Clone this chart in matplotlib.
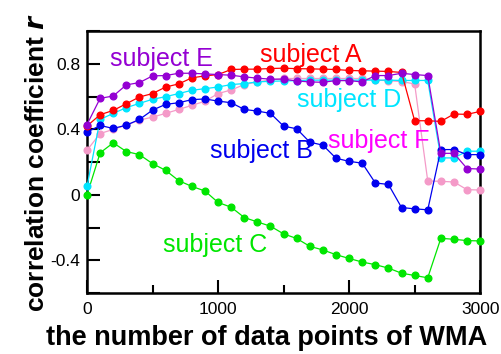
import numpy as np
import matplotlib
matplotlib.use('Agg')
import matplotlib.pyplot as plt
from matplotlib.ticker import MultipleLocator

plt.rcParams['font.family'] = ['Liberation Sans', 'DejaVu Sans']

# window sizes of the WMA (0, 100, ..., 3000)
n_points = list(range(0, 3001, 100))

subj_a = [0.42, 0.489, 0.515, 0.556, 0.597, 0.618, 0.658, 0.677, 0.714, 0.726, 0.734,
          0.765, 0.767, 0.767, 0.771, 0.773, 0.770, 0.769, 0.767, 0.765, 0.759,
          0.757, 0.755, 0.753, 0.747, 0.452, 0.452, 0.448, 0.493, 0.491, 0.509]
subj_b = [0.382, 0.423, 0.405, 0.425, 0.46, 0.517, 0.552, 0.562, 0.581, 0.585, 0.572,
          0.562, 0.521, 0.511, 0.497, 0.419, 0.403, 0.321, 0.303, 0.223, 0.204,
          0.193, 0.072, 0.063, -0.078, -0.086, -0.092, 0.276, 0.276, 0.245, 0.245]
subj_c = [0.0, 0.256, 0.317, 0.264, 0.245, 0.190, 0.149, 0.086, 0.051, 0.023, -0.047,
          -0.076, -0.139, -0.166, -0.192, -0.239, -0.267, -0.315, -0.337, -0.366, -0.389,
          -0.411, -0.427, -0.448, -0.479, -0.493, -0.507, -0.266, -0.272, -0.280, -0.282]
subj_d = [0.051, 0.46, 0.497, 0.532, 0.558, 0.583, 0.599, 0.618, 0.638, 0.648, 0.658,
          0.673, 0.679, 0.689, 0.693, 0.695, 0.697, 0.70, 0.70, 0.70, 0.70,
          0.70, 0.70, 0.70, 0.698, 0.698, 0.698, 0.225, 0.225, 0.266, 0.266]
subj_e = [0.429, 0.589, 0.603, 0.671, 0.685, 0.726, 0.728, 0.742, 0.742, 0.738, 0.734,
          0.730, 0.720, 0.712, 0.706, 0.706, 0.695, 0.689, 0.687, 0.697, 0.697,
          0.689, 0.728, 0.728, 0.742, 0.734, 0.728, 0.253, 0.253, 0.160, 0.157]
subj_f = [0.272, 0.374, 0.399, 0.425, 0.456, 0.474, 0.497, 0.521, 0.546, 0.571, 0.618,
          0.640, 0.673, 0.689, 0.701, 0.71, 0.71, 0.71, 0.71, 0.71, 0.71,
          0.71, 0.70, 0.697, 0.691, 0.677, 0.084, 0.082, 0.078, 0.031, 0.029]

# (data, line colour, label text, label colour, label x, label y)
series = [
    (subj_c, '#00e600', 'subject C', '#00e600', 580, -0.35),
    (subj_f, '#f49ac8', 'subject F', '#ff00ff', 1840, 0.288),
    (subj_d, '#00e5ff', 'subject D', '#00e5ff', 1603, 0.534),
    (subj_b, '#0000ee', 'subject B', '#0000ee', 939, 0.227),
    (subj_a, '#ff0000', 'subject A', '#ff0000', 1321, 0.81),
    (subj_e, '#9400d3', 'subject E', '#9400d3', 176, 0.785),
]

fig = plt.figure(figsize=(5.01, 3.54), dpi=100)
ax = fig.add_axes([0.1737, 0.1723, 0.7847, 0.7401])

for vals, col, txt, tcol, tx, ty in series:
    ax.plot(n_points, vals, '-o', color=col, lw=0.9, ms=4.8, clip_on=False, zorder=3)
    ax.text(tx, ty, txt, color=tcol, fontsize=18, ha='left', va='baseline')

ax.set_xlim(0, 3000)
ax.set_ylim(-0.6, 1.0)
ax.xaxis.set_major_locator(MultipleLocator(1000))
ax.xaxis.set_minor_locator(MultipleLocator(500))
ax.set_yticks(np.arange(-0.6, 1.01, 0.2))
ylabels = []
for v in np.arange(-0.6, 1.01, 0.2):
    v = round(v, 1)
    if abs(v) < 1e-9:
        ylabels.append('0')
    elif round(v * 10) % 4 == 0:
        ylabels.append('%g' % v)
    else:
        ylabels.append('')
ax.set_yticklabels(ylabels)

ax.tick_params(which='both', direction='in', width=1.5, labelsize=12.5)
ax.tick_params(axis='y', which='major', length=9.5, pad=5)
ax.tick_params(axis='x', which='major', length=9.5, pad=6.5)
ax.tick_params(axis='x', which='minor', length=6)
for s in ax.spines.values():
    s.set_linewidth(1.8)

ax.set_xlabel('the number of data points of WMA', fontsize=19.5, fontweight='bold')
ax.xaxis.set_label_coords(0.458, -0.122)
ax.set_ylabel(r'correlation coefficient $\boldsymbol{r}$', fontsize=19, fontweight='bold', labelpad=1)

fig.savefig('out.png', dpi=100)
